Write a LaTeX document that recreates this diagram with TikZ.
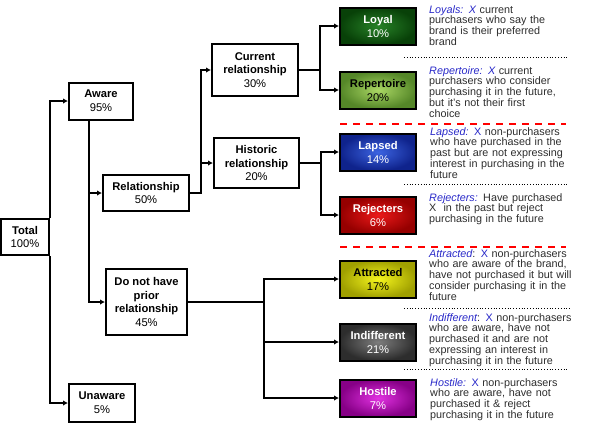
\documentclass[tikz,border=0pt]{standalone}
\usepackage{fontspec}
\setmainfont{Liberation Sans}
\usetikzlibrary{arrows.meta}
\definecolor{descblue}{RGB}{40,40,200}
\definecolor{desctext}{RGB}{45,45,45}
\newcommand{\bl}[1]{\textcolor{descblue}{\itshape #1}}
\newcommand{\bu}[1]{\textcolor{descblue}{#1}}
\begin{document}
\begin{tikzpicture}[x=1pt,y=-1pt,
  box/.style={draw, line width=2pt, align=center, inner sep=1pt, fill=white,
    font=\fontsize{11.2}{13.8}\selectfont},
  cbox/.style={draw, line width=2pt, align=center, inner sep=1pt,
    minimum width=76pt, minimum height=37pt, font=\fontsize{11.2}{14}\selectfont},
  arr/.style={line width=2pt, -{Latex[length=5pt,width=5.5pt]}},
  desc/.style={anchor=north west, align=left, inner sep=0pt, text width=150pt,
    text=desctext, font=\fontsize{10.8}{10.8}\selectfont},
  sepdot/.style={dotted, line width=0.8pt},
  sepred/.style={red, line width=1.8pt, dash pattern=on 7pt off 6pt}
]
\useasboundingbox (0,0) rectangle (592,429);

% left tree boxes
\node[box, minimum width=48pt, minimum height=36pt] (total) at (25,237) {\textbf{Total}\\100\%};
\node[box, minimum width=64pt, minimum height=37pt] (aware) at (101,101) {\textbf{Aware}\\95\%};
\node[box, minimum width=66pt, minimum height=38pt] (unaware) at (102,403) {\textbf{Unaware}\\5\%};
\node[box, minimum width=86pt, minimum height=36pt] (rel) at (146,193) {\textbf{Relationship}\\50\%};
\node[box, minimum width=81pt, minimum height=66pt] (norel) at (146.5,302) {\textbf{Do not have}\\\textbf{prior}\\\textbf{relationship}\\45\%};
\node[box, minimum width=86pt, minimum height=52pt] (cur) at (255,70) {\textbf{Current}\\\textbf{relationship}\\30\%};
\node[box, minimum width=85pt, minimum height=50pt] (hist) at (256.5,163) {\textbf{Historic}\\\textbf{relationship}\\20\%};

% coloured boxes
\node[cbox, inner color={rgb,255:red,40;green,130;blue,40}, outer color={rgb,255:red,8;green,65;blue,8}, text=white] (loyal) at (378,26) {\textbf{Loyal}\\10\%};
\node[cbox, inner color={rgb,255:red,170;green,215;blue,100}, outer color={rgb,255:red,85;green,135;blue,40}, text=black] (rep) at (378,90) {\textbf{Repertoire}\\20\%};
\node[cbox, inner color={rgb,255:red,60;green,100;blue,225}, outer color={rgb,255:red,15;green,35;blue,140}, text=white] (lapsed) at (378,152) {\textbf{Lapsed}\\14\%};
\node[cbox, inner color={rgb,255:red,235;green,25;blue,25}, outer color={rgb,255:red,150;green,0;blue,0}, text=white] (rej) at (378,215) {\textbf{Rejecters}\\6\%};
\node[cbox, inner color={rgb,255:red,245;green,245;blue,30}, outer color={rgb,255:red,160;green,160;blue,0}, text=black] (attr) at (378,279) {\textbf{Attracted}\\17\%};
\node[cbox, inner color={rgb,255:red,125;green,125;blue,125}, outer color={rgb,255:red,45;green,45;blue,45}, text=white] (indiff) at (378,342) {\textbf{Indifferent}\\21\%};
\node[cbox, inner color={rgb,255:red,225;green,50;blue,225}, outer color={rgb,255:red,135;green,0;blue,135}, text=white] (host) at (378,398) {\textbf{Hostile}\\7\%};

% connectors
\draw[arr] (total.north east) |- (aware.west);
\draw[arr] (total.south east) |- (unaware.west);
\coordinate (awfoot) at (89,120);
\draw[arr] (awfoot) |- (rel.west);
\draw[arr] (awfoot) |- (norel.west);
\draw[arr] (rel.east) -- ++(11,0) |- (cur.west);
\draw[arr] (rel.east) -- ++(11,0) |- (hist.west);
\draw[arr] (cur.east) -- ++(21,0) |- (loyal.west);
\draw[arr] (cur.east) -- ++(21,0) |- (rep.west);
\draw[arr] (hist.east) -- ++(20.5,0) |- (lapsed.west);
\draw[arr] (hist.east) -- ++(20.5,0) |- (rej.west);
\draw[arr] (norel.east) -- ++(76,0) |- (attr.west);
\draw[arr] (norel.east) -- ++(76,0) |- (indiff.west);
\draw[arr] (norel.east) -- ++(76,0) |- (host.west);

% descriptions
\node[desc] (dloyal) at (429,5) {\bl{Loyals: X} current\\purchasers who say the\\brand is their preferred\\brand};
\node[desc] (drep) at (429,66) {\bl{Repertoire: X} current\\purchasers who consider\\purchasing it in the future,\\but it’s not their first\\choice};
\node[desc] (dlapsed) at (430,127) {\bl{Lapsed:} \bu{X} non-purchasers\\who have purchased in the\\past but are not expressing\\interest in purchasing in the\\future};
\node[desc] (drej) at (429,193) {\bl{Rejecters:} Have purchased\\X~ in the past but reject\\purchasing in the future};
\node[desc] (dattr) at (429,249) {\bl{Attracted}: \bu{X} non-purchasers\\who are aware of the brand,\\have not purchased it but will\\consider purchasing it in the\\future};
\node[desc] (dindiff) at (429,313) {\bl{Indifferent}: \bu{X} non-purchasers\\who are aware, have not\\purchased it and are not\\expressing an interest in\\purchasing it in the future};
\node[desc] (dhost) at (430,378) {\bl{Hostile:} \bu{X} non-purchasers\\who are aware, have not\\purchased it \& reject\\purchasing it in the future};

% separators
\draw[sepdot] (404,57) -- (568,57);
\draw[sepred] (340,124) -- (566,124);
\draw[sepdot] (404,184) -- (568,184);
\draw[sepred] (340,247) -- (566,247);
\draw[sepdot] (404,308) -- (570,308);
\draw[sepdot] (404,369) -- (568,369);
\end{tikzpicture}
\end{document}
